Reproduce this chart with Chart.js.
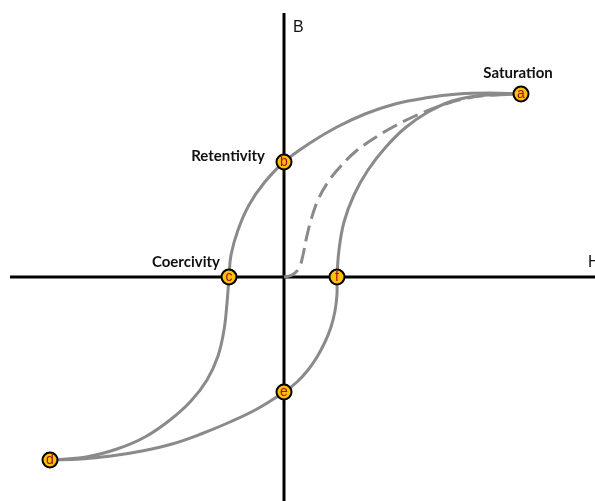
<!DOCTYPE html>
<html>
<head>
<meta charset="utf-8">
<script src="https://cdn.jsdelivr.net/npm/chart.js@4.4.1/dist/chart.umd.min.js"></script>
<style>
  html, body { margin: 0; padding: 0; background: #fff; }
  #wrap { width: 595px; height: 501px; position: relative; }
</style>
</head>
<body>
<div id="wrap"><canvas id="hyst"></canvas></div>
<script>
// Hysteresis loop, H horizontal / B vertical (arbitrary units)
const descH = [237, 206, 174, 141, 111, 81, 53, 26, 0, -20, -35, -46, -53, -55, -57, -60, -66, -77, -93, -114, -139, -167, -198, -234];
const descB = [183, 184, 183, 179, 173, 163, 150, 134, 115, 94, 72, 47, 22, 0, -26, -53, -79, -103, -124, -143, -160, -172, -180, -183];

const ascH = [-234, -203, -173, -142, -112, -83, -54, -27, 0, 13, 24, 33, 41, 47, 51, 53, 53, 55, 60, 70, 84, 101, 121, 144, 168, 192, 216, 237];
const ascB = [-183, -182, -179, -174, -167, -157, -145, -132, -115, -105, -93, -80, -65, -50, -34, -17, 0, 27, 55, 82, 107, 129, 149, 165, 176, 181, 182.5, 183];

// initial magnetisation curve (dashed)
const initH = [0, 8, 15, 19, 22, 27, 34, 44, 56, 71, 89, 109, 131, 156, 184, 211, 237];
const initB = [0, 2, 9, 22, 37, 57, 77, 95, 110, 125, 138, 150, 161, 171, 179, 182, 183];

// marked points
const markerLetters = ['a', 'b', 'c', 'd', 'e', 'f'];
const markerH = [237, 0, -55, -234, 0, 53];
const markerB = [183, 115, 0, -183, -115, 0];

const pointNames = ['Saturation', 'Retentivity', 'Coercivity'];
const axisNames = ['H', 'B'];

const toXY = (xs, ys) => xs.map((x, i) => ({ x: x, y: ys[i] }));

const labelPlugin = {
    id: 'labels',
    afterDatasetsDraw(chart) {
        const ctx = chart.ctx;
        const sx = chart.scales.x, sy = chart.scales.y;
        ctx.save();
        // letters inside markers
        ctx.font = '14px "Liberation Sans", Arial, sans-serif';
        ctx.fillStyle = '#a50c2c';
        ctx.textAlign = 'center';
        ctx.textBaseline = 'middle';
        markerLetters.forEach((l, i) => {
            ctx.fillText(l, sx.getPixelForValue(markerH[i]), sy.getPixelForValue(markerB[i]) + 0.5);
        });
        // point names
        ctx.font = 'bold 15px Lato, "Liberation Sans", sans-serif';
        ctx.fillStyle = '#111';
        ctx.textBaseline = 'alphabetic';
        ctx.textAlign = 'center';
        ctx.fillText(pointNames[0], sx.getPixelForValue(markerH[0]) - 3, sy.getPixelForValue(markerB[0]) - 16);
        ctx.textAlign = 'right';
        ctx.fillText(pointNames[1], sx.getPixelForValue(markerH[1]) - 19, sy.getPixelForValue(markerB[1]) - 1);
        ctx.fillText(pointNames[2], sx.getPixelForValue(markerH[2]) - 9, sy.getPixelForValue(markerB[2]) - 10);
        // axis names
        ctx.font = '16px "Liberation Sans", Arial, sans-serif';
        ctx.textAlign = 'left';
        ctx.fillText(axisNames[0], sx.getPixelForValue(304), sy.getPixelForValue(10));
        ctx.fillText(axisNames[1], sx.getPixelForValue(9), sy.getPixelForValue(245));
        ctx.restore();
    }
};

const curve = {
    showLine: true,
    borderColor: '#8a8a8a',
    borderWidth: 3,
    pointRadius: 0,
    tension: 0.4,
    order: 1
};

new Chart(document.getElementById('hyst'), {
    type: 'scatter',
    data: {
        datasets: [
            {
                label: 'points',
                data: toXY(markerH, markerB),
                showLine: false,
                pointRadius: 7.5,
                pointHoverRadius: 7.5,
                pointBackgroundColor: '#ffc000',
                pointBorderColor: '#000',
                pointBorderWidth: 2,
                order: 0
            },
            Object.assign({ label: 'descending', data: toXY(descH, descB) }, curve),
            Object.assign({ label: 'ascending', data: toXY(ascH, ascB) }, curve),
            Object.assign({ label: 'initial', data: toXY(initH, initB), borderDash: [16, 7] }, curve),
            {
                label: 'H axis',
                data: [{ x: -274, y: 0 }, { x: 311, y: 0 }],
                showLine: true,
                borderColor: '#000',
                borderWidth: 3,
                pointRadius: 0,
                order: 2
            },
            {
                label: 'B axis',
                data: [{ x: 0, y: 264 }, { x: 0, y: -224 }],
                showLine: true,
                borderColor: '#000',
                borderWidth: 3,
                pointRadius: 0,
                order: 2
            }
        ]
    },
    options: {
        responsive: true,
        maintainAspectRatio: false,
        animation: false,
        layout: { padding: 0, autoPadding: false },
        scales: {
            x: { type: 'linear', min: -284, max: 311, display: false },
            y: { type: 'linear', min: -224, max: 277, display: false }
        },
        plugins: {
            legend: { display: false },
            tooltip: { enabled: false }
        }
    },
    plugins: [labelPlugin]
});
</script>
</body>
</html>
